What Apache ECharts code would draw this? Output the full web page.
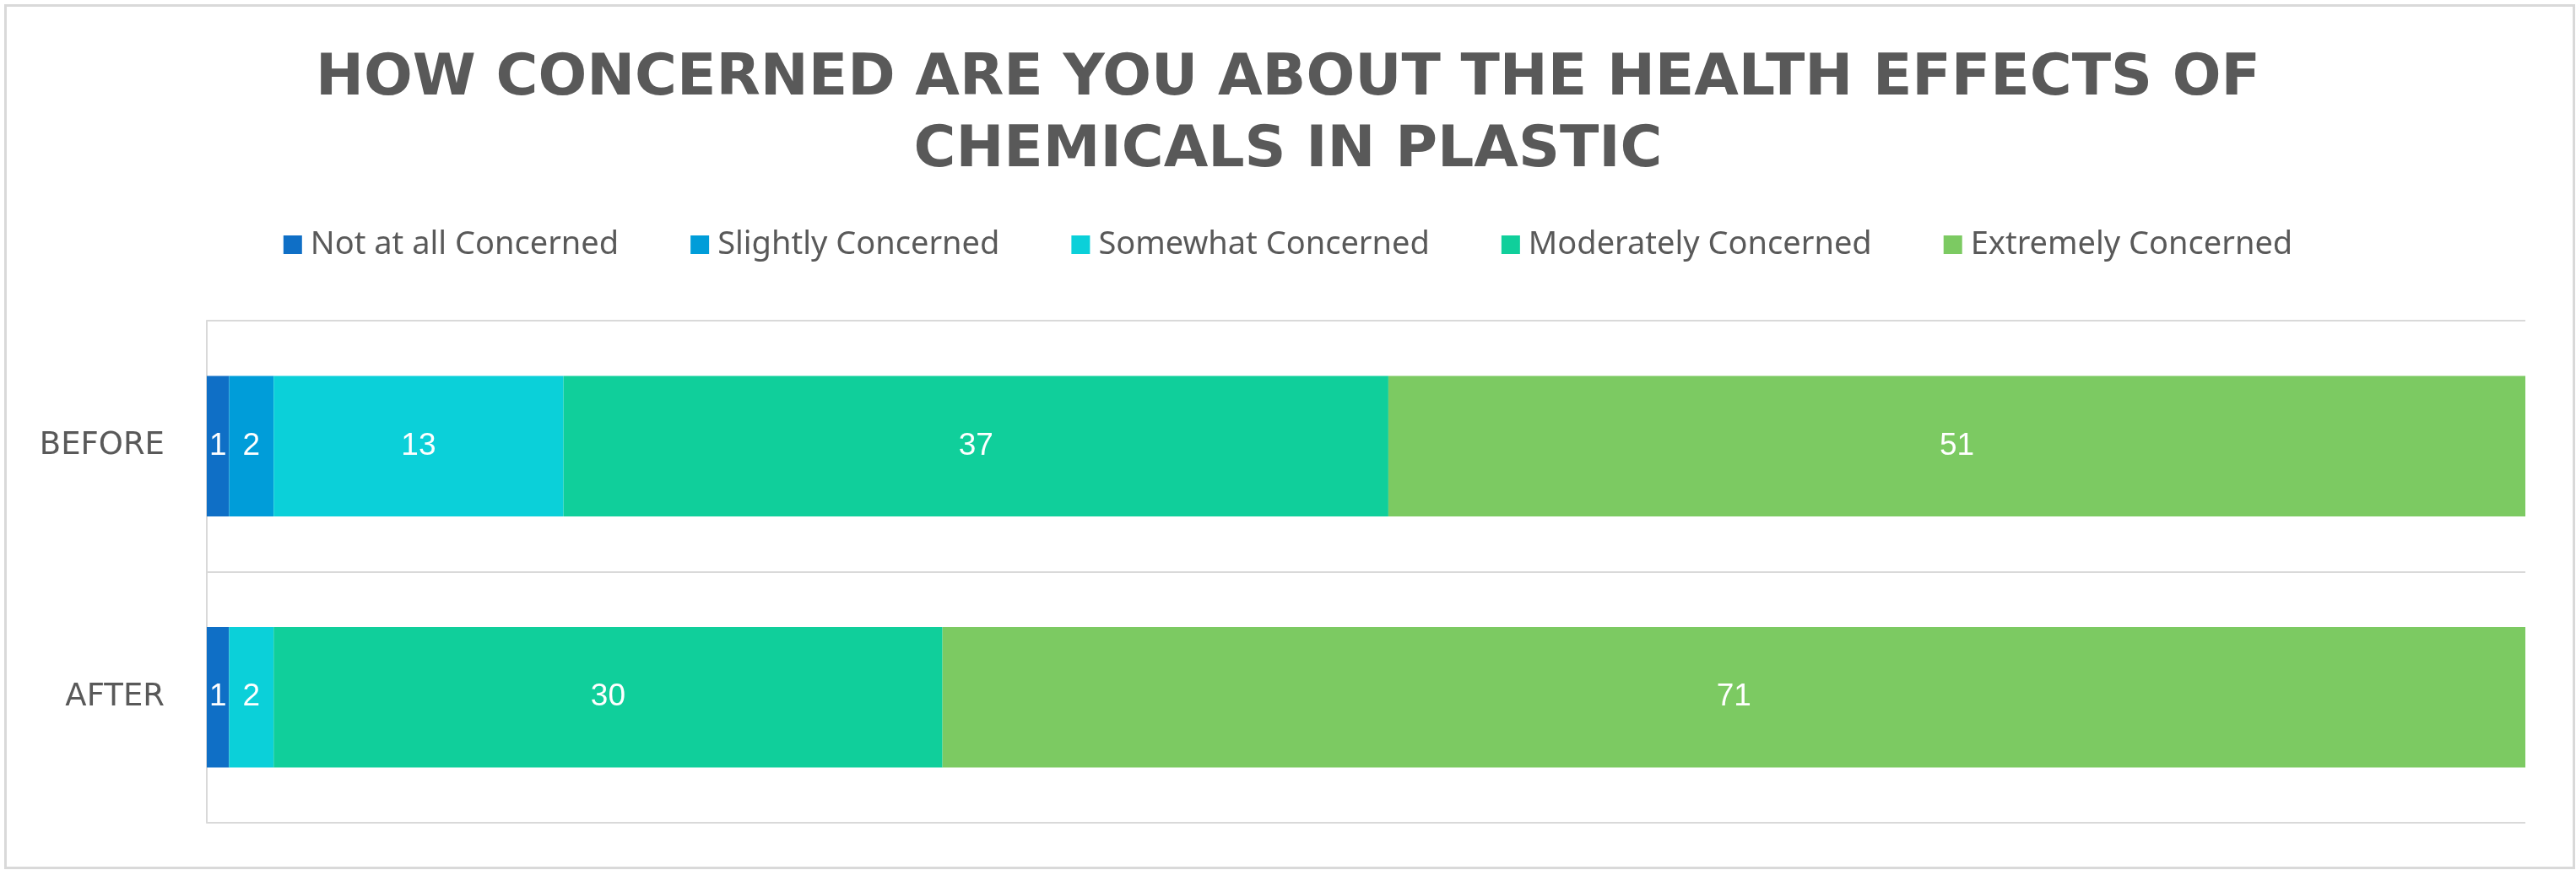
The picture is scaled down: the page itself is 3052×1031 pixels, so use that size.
<!DOCTYPE html>
<html lang="en" style="height: 100%; width: 100%; overflow: hidden">
<head>
    <meta charset="UTF-8">
    <title>Concern about chemicals in plastic</title>
    <script type="text/javascript" src="https://cdn.jsdelivr.net/npm/echarts@6/dist/echarts.min.js"></script>
</head>
<body style="height: 100%; width: 100%; margin: 0; background: #fff">
<div id="container" style="height: 100%; width: 100%"></div>
</body>
</html>

<script type="text/javascript">

    var categories = ['BEFORE', 'AFTER'];
    var seriesNames = [
        'Not at all Concerned',
        'Slightly Concerned',
        'Somewhat Concerned',
        'Moderately Concerned',
        'Extremely Concerned'
    ];
    var notAtAll = [1, 1];
    var slightly = [2, 0];
    var somewhat = [13, 2];
    var moderately = [37, 30];
    var extremely = [51, 71];

    var colors = ['#0F6FC6', '#009DD9', '#0BD0D9', '#10CF9B', '#7CCA62'];
    var values = [notAtAll, slightly, somewhat, moderately, extremely];

    var dom = document.getElementById("container");
    var myChart = echarts.init(dom);

    var series = seriesNames.map(function (name, i) {
        return {
            name: name,
            type: 'bar',
            stack: 'total',
            barCategoryGap: '44%',
            itemStyle: {color: colors[i]},
            label: {
                show: true,
                position: 'inside',
                color: '#fff',
                fontSize: 37,
                fontFamily: 'Liberation Sans',
                formatter: function (p) {
                    return p.value ? String(p.value) : '';
                }
            },
            data: values[i]
        };
    });

    var titleStyle = {
        color: '#595959',
        fontSize: 68,
        fontWeight: 'bold',
        fontFamily: 'DejaVu Sans'
    };

    var option = {
        backgroundColor: '#fff',
        color: colors,
        animation: false,
        // two title lines, each centred on its own
        title: [{
            text: 'HOW CONCERNED ARE YOU ABOUT THE HEALTH EFFECTS OF',
            left: 'center',
            top: 55,
            textStyle: titleStyle
        }, {
            text: 'CHEMICALS IN PLASTIC',
            left: 'center',
            top: 140,
            textStyle: titleStyle
        }],
        legend: {
            top: 266,
            left: 'center',
            itemWidth: 22,
            itemHeight: 22,
            itemGap: 85,
            icon: 'rect',
            data: seriesNames,
            textStyle: {
                color: '#595959',
                fontSize: 38,
                fontFamily: 'Noto Sans',
                padding: [0, 0, 0, 5]
            }
        },
        grid: {
            left: 245,
            right: 60,
            top: 380,
            bottom: 56,
            containLabel: false
        },
        xAxis: {
            type: 'value',
            min: 0,
            max: 104,
            show: false
        },
        yAxis: {
            type: 'category',
            inverse: true,
            data: categories,
            axisLine: {show: true, lineStyle: {color: '#d9d9d9', width: 2}},
            axisTick: {show: false},
            splitLine: {show: true, lineStyle: {color: '#d9d9d9', width: 2}},
            axisLabel: {
                color: '#595959',
                fontSize: 37,
                fontFamily: 'DejaVu Sans',
                margin: 50
            }
        },
        graphic: [{
            type: 'rect',
            left: 4,
            top: 4,
            shape: {width: 3043, height: 1022},
            style: {fill: 'none', stroke: '#d9d9d9', lineWidth: 3},
            silent: true
        }],
        series: series
    };

    myChart.setOption(option);

</script>
